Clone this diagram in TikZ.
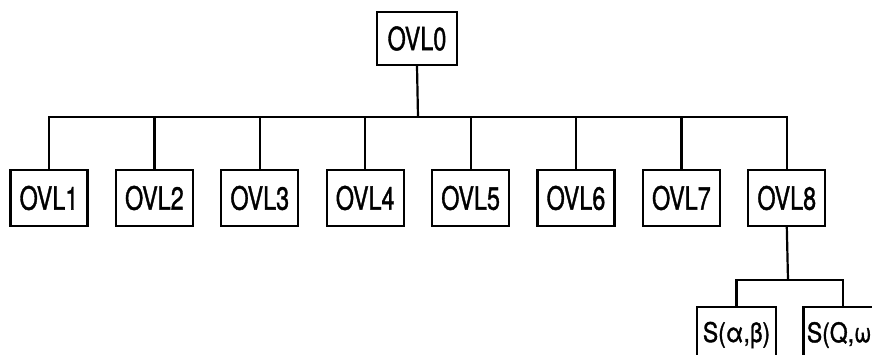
\documentclass[tikz,border=0pt]{standalone}
\usepackage{fontspec}
\setmainfont{TeX Gyre Heros}
\newfontfamily\diagfont{TeX Gyre Heros}[FakeBold=1.4]
\newcommand{\narrowtext}[2][0.73]{\scalebox{#1}[1]{#2}}
\tikzset{
  ovlbox/.style={draw, line width=2.2pt, minimum width=77pt, minimum height=56pt,
    inner sep=0pt, font=\diagfont\fontsize{32}{32}\selectfont},
  subbox/.style={ovlbox, minimum width=79pt, font=\diagfont\fontsize{27}{27}\selectfont},
  link/.style={line width=2.2pt}
}
\begin{document}
\begin{tikzpicture}[x=1pt, y=-1pt]
  \useasboundingbox (0,0) rectangle (872,354);
  \clip (0,0) rectangle (872,354);
  % root
  \node[ovlbox, minimum width=80pt, minimum height=53pt] (ovl0) at (417,38.5) {\narrowtext{OVL0}};
  % first level
  \foreach \i in {1,...,8} {
    \node[ovlbox] (ovl\i) at ({49+105.4*(\i-1)},198) {\narrowtext{OVL\i}};
  }
  \coordinate (bus) at (418,117);
  \draw[link] (ovl0.south) -- (bus);
  \draw[link] (ovl1.north) |- (bus) -| (ovl8.north);
  \foreach \i in {2,...,7} {
    \draw[link] (ovl\i.north) -- (ovl\i.north |- bus);
  }
  % second level below OVL8
  \node[subbox] (sab) at (736.5,335) {\narrowtext[0.85]{S(α,β)}};
  \node[subbox] (sqw) at (843,335) {\narrowtext[0.85]{S(Q,ω)}};
  \coordinate (subbus) at (788,280);
  \draw[link] (ovl8.south) -- (subbus);
  \draw[link] (sab.north) |- (subbus) -| (sqw.north);
\end{tikzpicture}
\end{document}
